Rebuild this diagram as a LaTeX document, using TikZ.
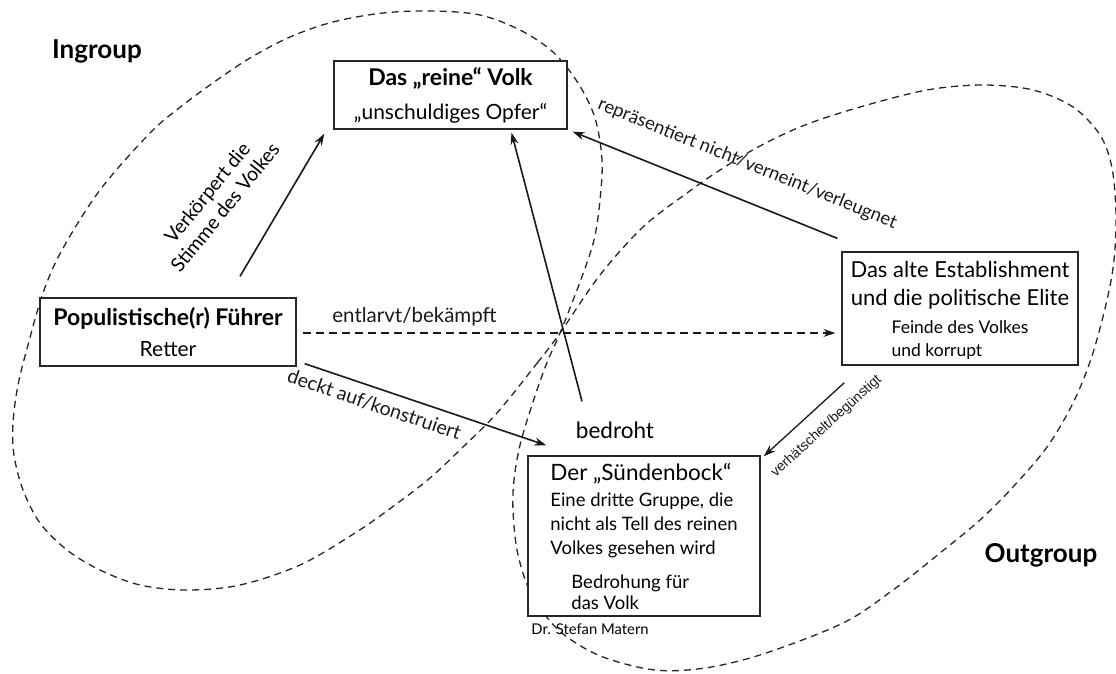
\documentclass[tikz,border=0pt]{standalone}
\usepackage{fontspec}
\setmainfont{Lato}
\newfontfamily\arialfont{Liberation Sans}
\usetikzlibrary{arrows.meta}

\begin{document}
\begin{tikzpicture}[x=1pt, y=-1pt,
    kasten/.style={draw=black!85, line width=1.3pt, fill=white, inner sep=0pt},
    gruppe/.style={black!85, line width=1.3pt, dash pattern=on 7pt off 5pt},
    pfeil/.style={black!90, line width=1.6pt, -{Stealth[length=12pt,width=8pt]}},
    beschrift/.style={font=\fontsize{19.5}{22}\selectfont, inner sep=0pt}]
        \useasboundingbox (0,0) rectangle (1116,673);
        %%%%%%%%%%%%%%%%%%%%%%%% Ingroup und Outgroup (eine Acht) %%%%%%%%%%%%%%%%%%%%%%%%
        \draw[gruppe] plot[smooth cycle, tension=0.55] coordinates {
            (560,333) (538,362) (497,413) (463,447) (430,478) (395,505) (355,533) (300,565)
            (240,585) (187,590) (140,585) (100,570) (67,550) (40,523) (23,490) (14,455)
            (13,423) (18,385) (28,345) (43,293) (62,250) (100,190) (150,133) (183,105)
            (217,80) (250,58) (290,37) (333,22) (383,13) (433,11) (480,15) (520,30)
            (553,52) (578,83) (595,118) (602,160) (600,200) (594,240) (580,282) %rechter Rand Ingroup
            (560,333) (546,365) (532,405) (520,445) (514,480) (513,510) (517,550) (528,587)
            (545,615) (567,637) (603,657) (655,670) (705,668) (763,654) (843,623) (893,590)
            (940,553) (980,520) (1013,487) (1047,447) (1073,403) (1092,356) (1107,300) (1114,260)
            (1116,215) (1112,168) (1100,135) (1073,107) (1033,90) (983,85) (927,90) (860,107)
            (805,125) (760,146) (720,170) (687,193) (643,227) (600,275)}; %oberer Rand Outgroup
        \node[font=\bfseries\fontsize{26}{30}\selectfont] (ingroup) at (97,51) {Ingroup};
        \node[font=\bfseries\fontsize{26}{30}\selectfont] (outgroup) at (1041,555) {Outgroup};
        %%%%%%%%%%%%%%%%%%%%%%%% Kaesten %%%%%%%%%%%%%%%%%%%%%%%%%%%%%%%%%%%%%%%%%
        \node[kasten, minimum width=233pt, minimum height=68pt, align=center,
              font=\fontsize{21}{34}\selectfont] (volk) at (450.5,95)
            {{\bfseries\fontsize{23}{34}\selectfont Das „reine“ Volk}\\„unschuldiges Opfer“};
        \node[kasten, minimum width=256pt, minimum height=68pt, align=center,
              font=\fontsize{21}{31}\selectfont] (fuehrer) at (168,332)
            {{\bfseries\fontsize{23}{31}\selectfont Populistische(r) Führer}\\Retter};
        \node[kasten, minimum width=236pt, minimum height=113pt, align=center,
              font=\fontsize{22}{28}\selectfont] (elite) at (960,308.5)
            {\rule{0pt}{24pt}Das alte Establishment\\und die politische Elite\\
             {\fontsize{17.5}{23}\selectfont\begin{tabular}[t]{@{}l@{}}Feinde des Volkes\\und korrupt\end{tabular}}};
        \node[kasten, minimum width=232pt, minimum height=160pt, align=left,
              font=\fontsize{18.5}{24}\selectfont] (bock) at (644,536)
            {{\fontsize{22.5}{24}\selectfont Der „Sündenbock“}\\[2pt]
             Eine dritte Gruppe, die\\nicht als Tell des reinen\\Volkes gesehen wird\\[10pt]
             \hspace*{21pt}Bedrohung für\\[-3pt]\hspace*{21pt}das Volk};
        \node[font=\fontsize{14.8}{17}\selectfont] (autor) at (590,629) {Dr. Stefan Matern};
        %%%%%%%%%%%%%%%%%%%%%%%% Pfeile %%%%%%%%%%%%%%%%%%%%%%%%%%%%%%%%%%%%%%%%%%
        \draw[pfeil] ([shift={(72,-21)}]fuehrer.north) -- ([shift={(-9,4)}]volk.south west);
        \node[beschrift, rotate=51, align=center, font=\fontsize{19.5}{23}\selectfont] (stimme)
            at (216,200) {Verkörpert die\\Stimme des Volkes};
        \draw[pfeil] ([shift={(-62,-54)}]bock.north) -- ([shift={(61,3)}]volk.south);
        \node[beschrift, font=\fontsize{22.5}{25}\selectfont] (bedroht) at (615,430) {bedroht};
        \draw[pfeil] ([shift={(-4,-13)}]elite.north west) -- ([shift={(5,2)}]volk.south east)
            node[beschrift, pos=.39, sloped, above=26pt, font=\fontsize{18.5}{21}\selectfont]
            {repräsentiert nicht/verneint/verleugnet};
        \draw[pfeil, dash pattern=on 8pt off 5pt] ([shift={(6,1)}]fuehrer.east) -- ([shift={(-6,24.5)}]elite.west)
            node[beschrift, pos=.21, above=6pt, font=\fontsize{20.5}{23}\selectfont] {entlarvt/bekämpft};
        \draw[pfeil] ([shift={(8,-3)}]fuehrer.south east) -- ([shift={(19,-10)}]bock.north west)
            node[beschrift, pos=.31, sloped, below=8pt] {deckt auf/konstruiert};
        \draw[pfeil, line width=1.3pt] ([shift={(3,17)}]elite.south west) -- ([shift={(3,1)}]bock.north east)
            node[pos=.39, sloped, below=13pt, inner sep=0pt, font=\arialfont\fontsize{14}{16}\selectfont] {verhätschelt/begünstigt};
      \end{tikzpicture}
\end{document}
